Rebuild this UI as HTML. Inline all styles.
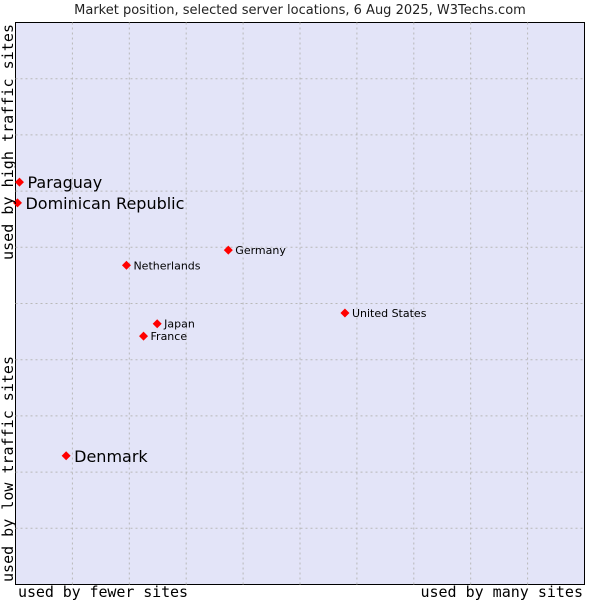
<!DOCTYPE html>
<html><head><meta charset="utf-8"><style>
body{margin:0;background:#fff;width:600px;height:600px;overflow:hidden}
text{font-family:"DejaVu Sans",sans-serif}
.mono{font-family:"DejaVu Sans Mono","Liberation Mono",monospace}
</style></head><body>
<svg id="c" width="600" height="600">
<text x="300" y="14" font-size="13" text-anchor="middle" fill="#222">Market position, selected server locations, 6 Aug 2025, W3Techs.com</text>
<rect x="15.5" y="22.5" width="569" height="562" fill="#e3e4f8" stroke="#000"/>
<g id="grid"></g>
<g id="pts"></g>
<text class="mono" x="18" y="597" font-size="15" textLength="170">used by fewer sites</text>
<text class="mono" x="583" y="597" font-size="15" text-anchor="end">used by many sites</text>
<text class="mono" transform="translate(13,260) rotate(-90)" font-size="15" textLength="236">used by high traffic sites</text>
<text class="mono" transform="translate(13,582) rotate(-90)" font-size="15" textLength="226">used by low traffic sites</text>
</svg>
<script>
const countries=["Paraguay","Dominican Republic","Denmark","Netherlands","Germany","United States","Japan","France"];
const xValues=[0.7,0.35,8.9,19.5,37.4,57.9,24.9,22.5];
const yValues=[71.6,67.9,22.9,56.8,59.5,48.3,46.4,44.2];
const highlighted=[true,true,true,false,false,false,false,false];
const NS="http://www.w3.org/2000/svg";
const X0=15.5,X1=584.5,Y0=584.5,Y1=22.5;
const xs=v=>X0+v/100*(X1-X0);
const ys=v=>Y0-v/100*(Y0-Y1);
const grid=document.getElementById('grid');
for(let i=1;i<10;i++){
  let l=document.createElementNS(NS,'line');
  l.setAttribute('x1',xs(i*10));l.setAttribute('x2',xs(i*10));l.setAttribute('y1',Y1);l.setAttribute('y2',Y0);
  l.setAttribute('stroke','#b8b8b8');l.setAttribute('stroke-dasharray','2,3');
  
  
  grid.appendChild(l);
  let h=document.createElementNS(NS,'line');
  h.setAttribute('y1',ys(i*10));h.setAttribute('y2',ys(i*10));h.setAttribute('x1',X0);h.setAttribute('x2',X1);
  h.setAttribute('stroke','#b8b8b8');h.setAttribute('stroke-dasharray','2,3');
  
  
  grid.appendChild(h);
}
const pts=document.getElementById('pts');
countries.forEach((c,i)=>{
  const x=xs(xValues[i]),y=ys(yValues[i]);
  const p=document.createElementNS(NS,'polygon');
  p.setAttribute('points',`${x},${y-4.5} ${x+4.5},${y} ${x},${y+4.5} ${x-4.5},${y}`);
  p.setAttribute('fill','#f00');
  
  
  pts.appendChild(p);
  const t=document.createElementNS(NS,'text');
  const big=highlighted[i];
  t.setAttribute('x',x+(big?8:7));t.setAttribute('y',y+(big?6:4));
  t.setAttribute('font-size',big?16:11);t.setAttribute('fill','#000');
  t.textContent=c;
  
  
  pts.appendChild(t);
});
</script>
</body></html>
